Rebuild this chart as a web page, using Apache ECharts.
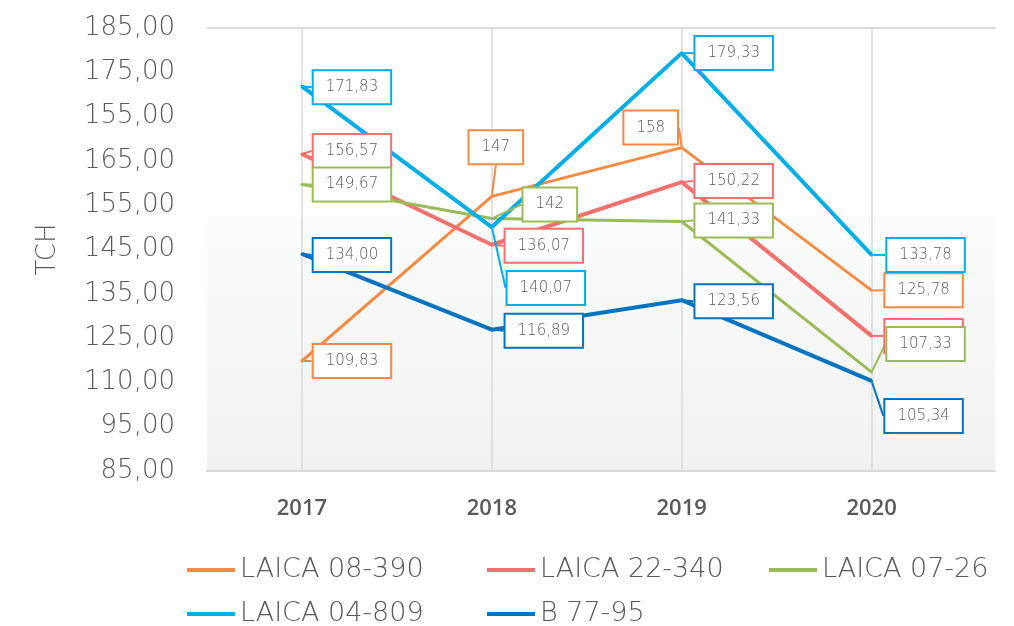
<!DOCTYPE html>
<html lang="es">
<head>
    <meta charset="UTF-8">
    <title>TCH por variedad</title>
    <script src="https://cdn.jsdelivr.net/npm/echarts@6/dist/echarts.min.js"></script>
    <style>
        html, body { margin: 0; padding: 0; background: #fff; }
        #chart { width: 1014px; height: 626px; }
    </style>
</head>
<body>
<div id="chart"></div>
<script>
    // eje x
    var years = ['2017', '2018', '2019', '2020'];
    // etiquetas del eje y tal como salen en el grafico (de abajo hacia arriba)
    var yTickLabels = ['85,00', '95,00', '110,00', '125,00', '135,00', '145,00',
                       '155,00', '165,00', '155,00', '175,00', '185,00'];
    var seriesNames = ['LAICA 08-390', 'LAICA 22-340', 'LAICA 07-26', 'LAICA 04-809', 'B 77-95'];

    // TCH por variedad
    var laica08390 = [109.83, 147, 158, 125.78];
    var laica22340 = [156.57, 136.07, 150.22, 115.5];
    var laica0726 = [149.67, 142, 141.33, 107.33];
    var laica04809 = [171.83, 140.07, 179.33, 133.78];
    var b7795 = [134.00, 116.89, 123.56, 105.34];

    var seriesValues = [laica08390, laica22340, laica0726, laica04809, b7795];

    // estilo
    var colors = ['#F58B43', '#F0716E', '#9BBB59', '#00ADE6', '#0474C0'];
    var widths = [3, 4, 3, 4, 4];
    // desplazamiento de cada etiqueta (centro de la caja respecto al punto)
    var labelShift = [
        [[50, 0], [4, -49], [-31, -20], [52, 0]],
        [[50, -3], [52, 1], [52, -1], [52, 0]],
        [[50, 0], [58, -14], [52, -1], [54, -28]],
        [[50, 1], [54, 61], [52, 0], [54, 0]],
        [[50, 1], [52, 1], [52, 1], [52, 35]]
    ];

    var thinFont = 'DejaVu Sans';
    var textGrey = '#595959';

    function fmt(v, name) {
        // los enteros de las LAICA salen sin decimales
        if (Number.isInteger(v) && name !== 'B 77-95') return String(v);
        return v.toFixed(2).replace('.', ',');
    }

    var chart = echarts.init(document.getElementById('chart'));

    var series = seriesValues.map(function (vals, s) {
        return {
            name: seriesNames[s],
            type: 'line',
            data: vals.map(function (v, i) { return [i, v]; }),
            symbol: 'circle',
            symbolSize: 3,
            itemStyle: { color: colors[s] },
            lineStyle: { color: colors[s], width: widths[s] },
            label: {
                show: true,
                position: 'right',
                formatter: function (p) { return fmt(p.value[1], p.seriesName); },
                backgroundColor: '#fff',
                borderColor: colors[s],
                borderWidth: 2,
                padding: [7, 12],
                color: textGrey,
                fontFamily: thinFont,
                fontWeight: 200,
                fontSize: 15,
                lineHeight: 18
            },
            labelLine: { show: true, lineStyle: { color: colors[s], width: 2 } },
            labelLayout: function (p) {
                var d = labelShift[s][p.dataIndex];
                var cx = p.rect.x + p.rect.width / 2;
                var cy = p.rect.y + p.rect.height / 2;
                return { x: cx + d[0], y: cy + d[1], align: 'center', verticalAlign: 'middle' };
            },
            emphasis: { disabled: true }
        };
    });

    // solo la linea superior (185) es visible
    var ySplitColors = [];
    for (var i = 0; i < 21; i++) ySplitColors.push(i === 20 ? '#d9d9d9' : 'rgba(0,0,0,0)');

    var legendCommon = {
        orient: 'vertical',
        height: 120,
        icon: 'rect',
        itemWidth: 48,
        itemHeight: 4,
        itemGap: 14,
        textStyle: { fontFamily: thinFont, fontWeight: 200, fontSize: 27, lineHeight: 30, color: textGrey }
    };

    chart.setOption({
        animation: false,
        backgroundColor: '#fff',
        grid: {
            left: 207, right: 19, top: 28, bottom: 155,
            show: true,
            borderWidth: 0,
            backgroundColor: new echarts.graphic.LinearGradient(0, 0, 0, 1, [
                { offset: 0, color: '#ffffff' },
                { offset: 0.42, color: '#ffffff' },
                { offset: 0.43, color: '#fbfcfc' },
                { offset: 1, color: '#f1f1f1' }
            ])
        },
        legend: [
            Object.assign({ left: 182, top: 550, data: ['LAICA 08-390', 'LAICA 04-809'] }, legendCommon),
            Object.assign({ left: 482, top: 550, data: ['LAICA 22-340', 'B 77-95'] }, legendCommon),
            Object.assign({ left: 764, top: 550, data: ['LAICA 07-26'] }, legendCommon)
        ],
        xAxis: {
            type: 'value',
            min: -0.5,
            max: 3.65,
            axisLine: { show: true, onZero: false, lineStyle: { color: '#d9d9d9', width: 2 } },
            axisTick: { show: false },
            splitLine: { show: true, showMinLine: false, showMaxLine: false, lineStyle: { color: '#d9d9d9', width: 1.5 } },
            axisLabel: {
                showMinLabel: false,
                showMaxLabel: false,
                margin: 27,
                color: textGrey,
                fontFamily: 'Open Sans',
                fontWeight: 600,
                fontSize: 22,
                formatter: function (v) {
                    return Number.isInteger(v) && years[v] ? years[v] : '';
                }
            }
        },
        yAxis: {
            type: 'value',
            min: 85,
            max: 185,
            interval: 5,
            name: 'TCH',
            nameLocation: 'middle',
            nameRotate: 90,
            nameGap: 146,
            nameTextStyle: { fontFamily: thinFont, fontWeight: 200, fontSize: 26, color: textGrey },
            axisLine: { show: false },
            axisTick: { show: false },
            splitLine: { show: true, lineStyle: { color: ySplitColors, width: 2 } },
            axisLabel: {
                margin: 32,
                color: textGrey,
                fontFamily: thinFont,
                fontWeight: 200,
                fontSize: 26,
                formatter: function (v) {
                    var k = (v - 85) / 10;
                    if (Math.abs(k - Math.round(k)) > 1e-6) return '';
                    return yTickLabels[Math.round(k)];
                }
            }
        },
        series: series
    });
</script>
</body>
</html>
